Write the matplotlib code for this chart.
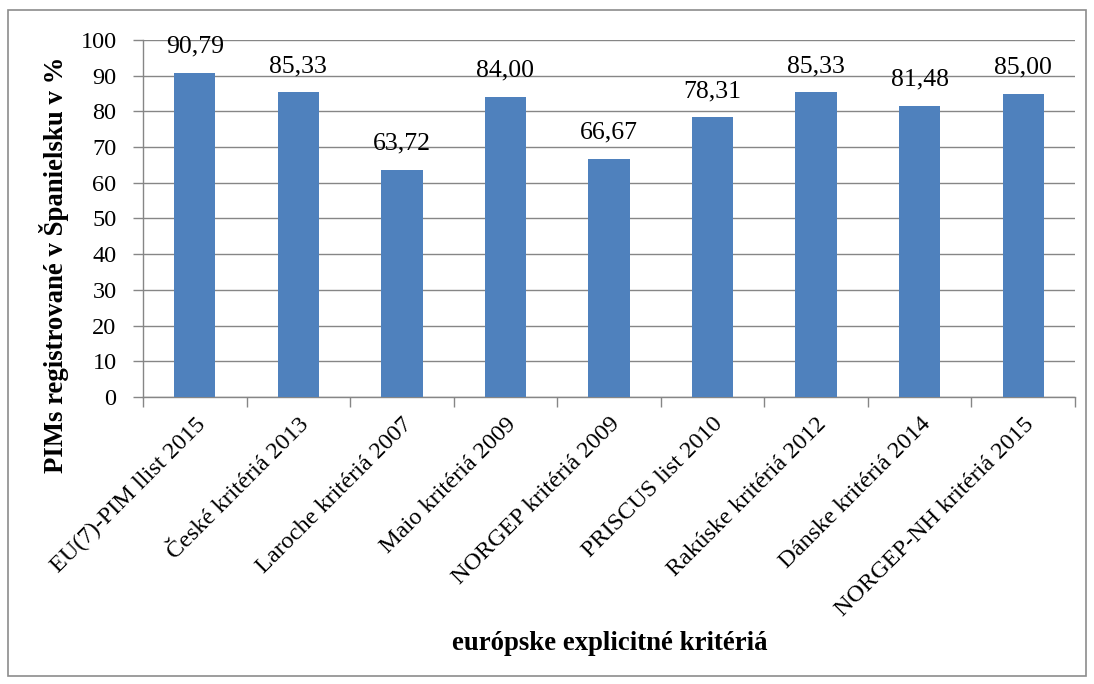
import matplotlib
matplotlib.use("Agg")
import matplotlib.pyplot as plt
from matplotlib.patches import Rectangle
import numpy as np

categories = ["EU(7)-PIM llist 2015", "České kritériá 2013", "Laroche kritériá 2007",
              "Maio kritériá 2009", "NORGEP kritériá 2009", "PRISCUS list 2010",
              "Rakúske kritériá 2012", "Dánske kritériá 2014", "NORGEP-NH kritériá 2015"]
values = [90.79, 85.33, 63.72, 84.00, 66.67, 78.31, 85.33, 81.48, 85.00]
yticks = [0, 10, 20, 30, 40, 50, 60, 70, 80, 90, 100]

plt.rcParams['font.family'] = ['Liberation Serif', 'DejaVu Serif']

fig = plt.figure(figsize=(10.94, 6.84), dpi=100)
fig.patches.append(Rectangle((8/1094, 8/684), 1078/1094, 666/684, transform=fig.transFigure,
                             fill=False, edgecolor='#8c8c8c', linewidth=1.2))
ax = fig.add_axes([143/1094, 1-397/684, (1075-143)/1094, (397-40)/684])

x = np.arange(len(categories))
ax.bar(x, values, width=0.4, color='#4F81BD', zorder=3)
for xi, v in zip(x, values):
    ax.annotate(f"{v:.2f}".replace('.', ','), (xi, v), xytext=(0, 11), textcoords='offset points',
                ha='center', va='bottom', fontsize=18.5)

ax.set_xlim(-0.5, len(categories) - 0.5)
ax.set_ylim(0, 100)
ax.set_yticks(yticks)
ax.set_yticklabels([str(t) for t in yticks], fontsize=17.5)
ax.yaxis.grid(True, color='#868686', linewidth=1, zorder=0)
ax.set_axisbelow(True)

ax.set_xticks(x)
ax.set_xticklabels(categories, rotation=45, ha='right', rotation_mode='anchor', fontsize=17.5)
ax.tick_params(axis='x', length=0, pad=12)
ax.set_xticks(np.arange(-0.5, len(categories) + 0.5, 1), minor=True)
ax.tick_params(axis='x', which='minor', length=7, color='#868686', width=1)
ax.tick_params(axis='y', length=7, color='#868686', width=1, pad=12)

for s in ['top', 'right']:
    ax.spines[s].set_visible(False)
for s in ['left', 'bottom']:
    ax.spines[s].set_color('#868686')
    ax.spines[s].set_linewidth(1)

fig.text(54/1094, 1-265/684, "PIMs registrované v Španielsku v %", rotation=90, ha='center', va='center',
         fontsize=19.3, fontweight='bold')
fig.text(610/1094, 1-643/684, "európske explicitné kritériá", ha='center', va='center',
         fontsize=19.3, fontweight='bold')

fig.savefig("out.png", dpi=100)
